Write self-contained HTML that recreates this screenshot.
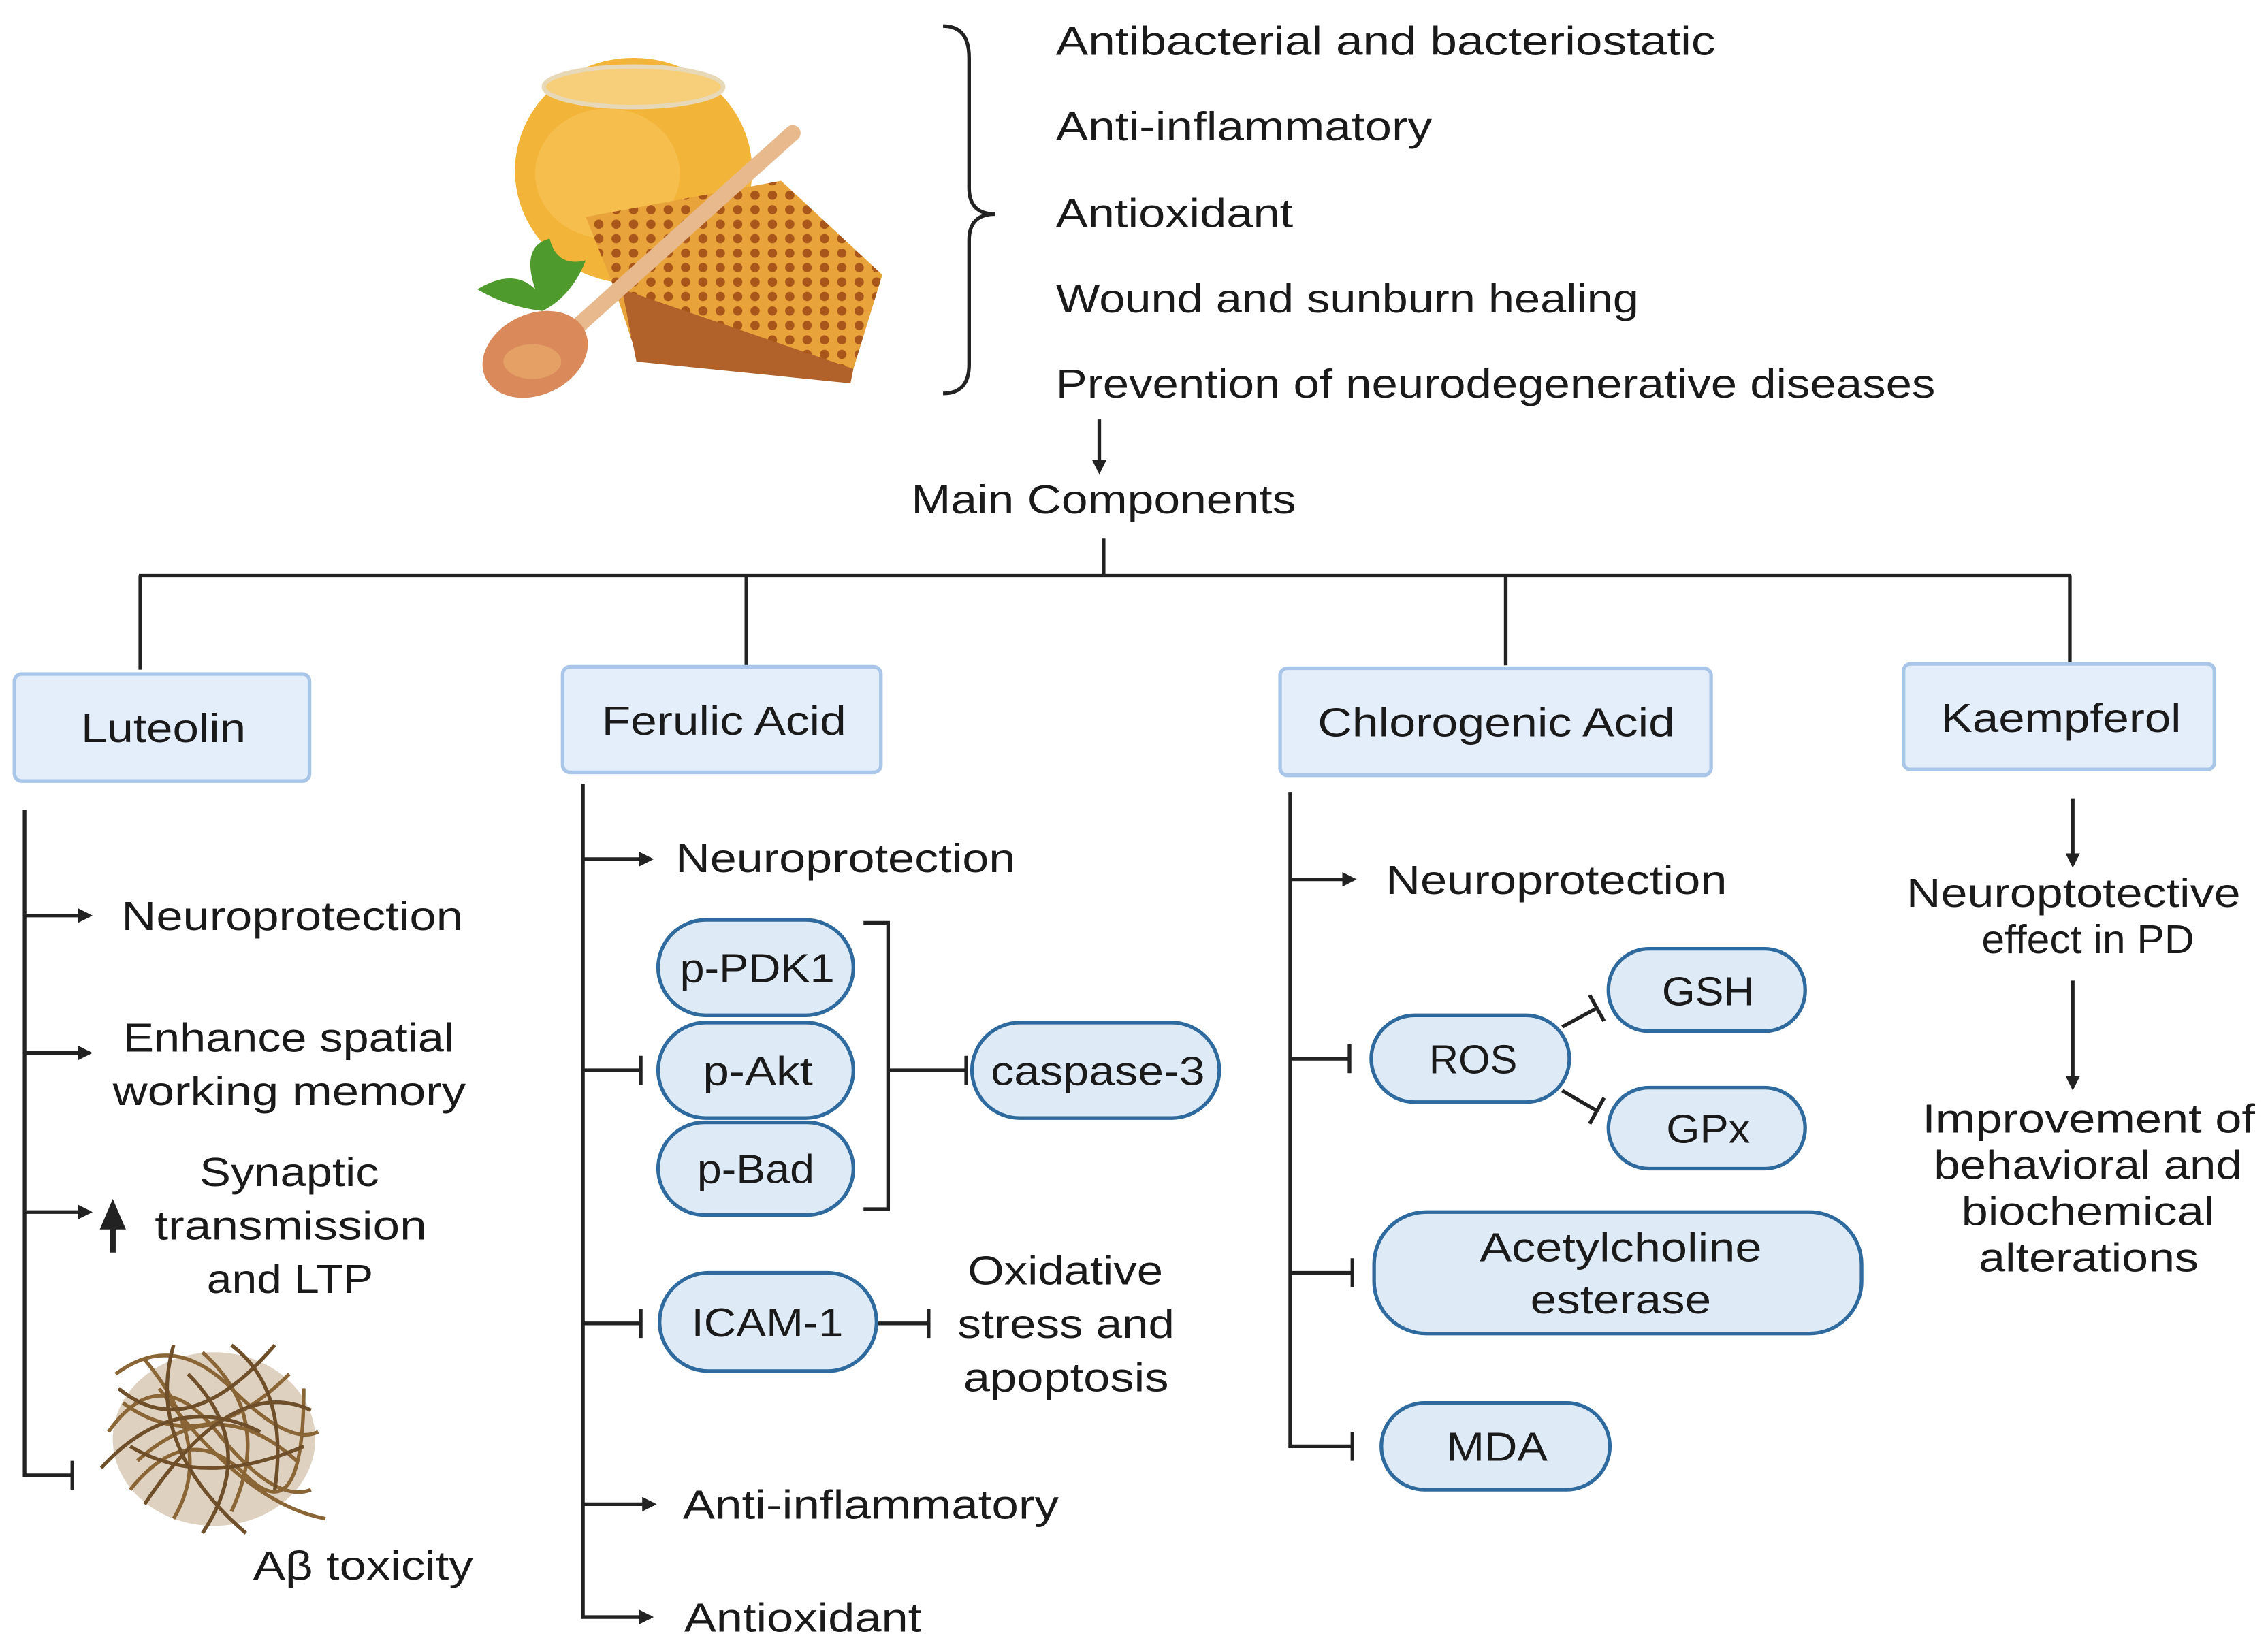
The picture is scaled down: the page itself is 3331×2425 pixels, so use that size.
<!DOCTYPE html>
<html><head><meta charset="utf-8"><style>
html,body{margin:0;padding:0;background:#fff;}
svg{display:block;}
text{font-family:"Liberation Sans",sans-serif;fill:#1a1a1a;}
</style></head><body>
<svg width="3331" height="2425" viewBox="0 0 1568 1141.5" preserveAspectRatio="none" xmlns="http://www.w3.org/2000/svg">
<defs>
<marker id="ar" markerWidth="10" markerHeight="10" refX="8" refY="5" orient="auto" markerUnits="userSpaceOnUse" viewBox="0 0 10 10"><path d="M0,0 L10,5 L0,10 z" fill="#222"/></marker>
<pattern id="hc" width="12" height="10" patternUnits="userSpaceOnUse"><rect width="12" height="10" fill="#e8a33a"/><circle cx="6" cy="5" r="3.2" fill="#a8561a"/></pattern>
</defs>
<rect width="1568" height="1141.5" fill="#fff"/>
<!-- honey image -->
<g>
<ellipse cx="438" cy="118" rx="82" ry="78" fill="#f3b43a"/>
<ellipse cx="438" cy="60" rx="62" ry="14" fill="#f7cf7a" stroke="#e7d8b8" stroke-width="3"/>
<ellipse cx="420" cy="120" rx="50" ry="45" fill="#f8c55a" opacity="0.6"/>
<polygon points="405,150 540,125 610,190 590,255 440,245 425,200" fill="url(#hc)"/>
<polygon points="430,200 590,255 588,265 440,250" fill="#b0622a"/>
<line x1="548" y1="92" x2="400" y2="225" stroke="#e8b98c" stroke-width="11" stroke-linecap="round"/>
<ellipse cx="370" cy="245" rx="38" ry="28" fill="#d9895a" transform="rotate(-25 370 245)"/>
<ellipse cx="368" cy="250" rx="20" ry="12" fill="#e5a066"/>
<path d="M330,200 Q355,185 370,200 Q360,170 380,165 Q385,185 405,180 Q395,205 375,215 Q350,212 330,200z" fill="#4e9a2c"/>
</g>
<!-- brace -->
<path d="M652,18 Q670,18 670,40 L670,130 Q670,148 688,148 Q670,148 670,166 L670,252 Q670,272 652,272" fill="none" stroke="#222" stroke-width="2.5"/>
<g font-size="28" lengthAdjust="spacingAndGlyphs">
<text x="730" y="38" textLength="456" lengthAdjust="spacingAndGlyphs">Antibacterial and bacteriostatic</text>
<text x="730" y="97" textLength="260" lengthAdjust="spacingAndGlyphs">Anti-inflammatory</text>
<text x="730" y="157" textLength="164" lengthAdjust="spacingAndGlyphs">Antioxidant</text>
<text x="730" y="216" textLength="403" lengthAdjust="spacingAndGlyphs">Wound and sunburn healing</text>
<text x="730" y="275" textLength="608" lengthAdjust="spacingAndGlyphs">Prevention of neurodegenerative diseases</text>
<text x="630" y="355" textLength="266" lengthAdjust="spacingAndGlyphs">Main Components</text>
</g>
<g stroke="#222" stroke-width="2.5" fill="none">
<line x1="760" y1="290" x2="760" y2="326" marker-end="url(#ar)"/>
<line x1="763" y1="372" x2="763" y2="398"/>
<line x1="96" y1="398" x2="1432" y2="398"/>
<line x1="97" y1="398" x2="97" y2="463"/>
<line x1="516" y1="398" x2="516" y2="460"/>
<line x1="1041" y1="398" x2="1041" y2="460"/>
<line x1="1431" y1="398" x2="1431" y2="458"/>
</g>
<!-- boxes -->
<g fill="#e3eefa" stroke="#a9c6e8" stroke-width="2.5">
<rect x="10" y="466" width="204" height="74" rx="5"/>
<rect x="389" y="461" width="220" height="73" rx="5"/>
<rect x="885" y="462" width="298" height="74" rx="5"/>
<rect x="1316" y="459" width="215" height="73" rx="5"/>
</g>
<g font-size="28">
<text x="56" y="513" textLength="114" lengthAdjust="spacingAndGlyphs">Luteolin</text>
<text x="416" y="508" textLength="169" lengthAdjust="spacingAndGlyphs">Ferulic Acid</text>
<text x="911" y="509" textLength="247" lengthAdjust="spacingAndGlyphs">Chlorogenic Acid</text>
<text x="1342" y="506" textLength="166" lengthAdjust="spacingAndGlyphs">Kaempferol</text>
</g>
<!-- Luteolin branch -->
<g stroke="#222" stroke-width="2.5" fill="none">
<polyline points="17,560 17,1020 50,1020"/>
<line x1="50" y1="1010" x2="50" y2="1030"/>
<line x1="17" y1="633" x2="62" y2="633" marker-end="url(#ar)"/>
<line x1="17" y1="728" x2="62" y2="728" marker-end="url(#ar)"/>
<line x1="17" y1="838" x2="62" y2="838" marker-end="url(#ar)"/>
</g>
<path d="M78,866 L78,848 L72,848 L78,834 L84,848 L78,848" fill="#222" stroke="#222" stroke-width="4"/>
<ellipse cx="148" cy="995" rx="70" ry="60" fill="#a07a4a" opacity="0.35"/>
<g fill="none" stroke="#8a6535" stroke-width="2.5">
<path d="M80,950 Q120,920 160,960 T220,990 M75,990 Q110,940 150,990 T215,1030 M90,1030 Q130,980 170,1020 T210,960 M100,940 Q150,1000 120,1050 M140,935 Q190,980 160,1045 M85,970 Q140,1010 200,950 M95,1010 Q150,960 205,1010 M110,960 Q170,1040 225,1050"/>
<path d="M82,960 Q130,1000 190,930 M100,1040 Q160,950 215,975 M120,930 Q100,1000 170,1060 M90,1000 Q140,1030 210,1000 M130,950 Q180,1000 140,1060 M70,1015 Q120,960 180,990 M160,930 Q200,960 190,1030" stroke="#6f4e2a"/>
</g>
<g font-size="28">
<text x="84" y="643" textLength="236" lengthAdjust="spacingAndGlyphs">Neuroprotection</text>
<text x="85" y="727" textLength="229" lengthAdjust="spacingAndGlyphs">Enhance spatial</text>
<text x="78" y="764" textLength="244" lengthAdjust="spacingAndGlyphs">working memory</text>
<text x="138" y="820" textLength="124" lengthAdjust="spacingAndGlyphs">Synaptic</text>
<text x="107" y="857" textLength="188" lengthAdjust="spacingAndGlyphs">transmission</text>
<text x="143" y="894" textLength="115" lengthAdjust="spacingAndGlyphs">and LTP</text>
<text x="175" y="1092" textLength="152" lengthAdjust="spacingAndGlyphs">Aβ toxicity</text>
</g>
<!-- Ferulic branch -->
<g stroke="#222" stroke-width="2.5" fill="none">
<polyline points="403,542 403,1118 450,1118" marker-end="url(#ar)"/>
<line x1="403" y1="594" x2="450" y2="594" marker-end="url(#ar)"/>
<line x1="403" y1="740" x2="443" y2="740"/><line x1="443" y1="730" x2="443" y2="750"/>
<polyline points="597,638 614,638 614,836 597,836"/>
<line x1="614" y1="740" x2="668" y2="740"/><line x1="668" y1="730" x2="668" y2="750"/>
<line x1="403" y1="915" x2="443" y2="915"/><line x1="443" y1="905" x2="443" y2="925"/>
<line x1="606" y1="915" x2="642" y2="915"/><line x1="642" y1="905" x2="642" y2="925"/>
<line x1="403" y1="1040" x2="452" y2="1040" marker-end="url(#ar)"/>
</g>
<g fill="#deebf7" stroke="#2e6a9e" stroke-width="2.5">
<rect x="455" y="636" width="135" height="66" rx="33"/>
<rect x="455" y="707" width="135" height="66" rx="33"/>
<rect x="455" y="776" width="135" height="64" rx="32"/>
<rect x="672" y="707" width="171" height="66" rx="33"/>
<rect x="456" y="880" width="150" height="68" rx="34"/>
</g>
<g font-size="28">
<text x="470" y="679" textLength="107" lengthAdjust="spacingAndGlyphs">p-PDK1</text>
<text x="486" y="750" textLength="76" lengthAdjust="spacingAndGlyphs">p-Akt</text>
<text x="482" y="818" textLength="81" lengthAdjust="spacingAndGlyphs">p-Bad</text>
<text x="685" y="750" textLength="148" lengthAdjust="spacingAndGlyphs">caspase-3</text>
<text x="478" y="924" textLength="105" lengthAdjust="spacingAndGlyphs">ICAM-1</text>
<text x="669" y="888" textLength="135" lengthAdjust="spacingAndGlyphs">Oxidative</text>
<text x="662" y="925" textLength="150" lengthAdjust="spacingAndGlyphs">stress and</text>
<text x="666" y="962" textLength="142" lengthAdjust="spacingAndGlyphs">apoptosis</text>
<text x="467" y="603" textLength="235" lengthAdjust="spacingAndGlyphs">Neuroprotection</text>
<text x="472" y="1050" textLength="260" lengthAdjust="spacingAndGlyphs">Anti-inflammatory</text>
<text x="473" y="1128" textLength="164" lengthAdjust="spacingAndGlyphs">Antioxidant</text>
</g>
<!-- Chlorogenic branch -->
<g stroke="#222" stroke-width="2.5" fill="none">
<polyline points="892,548 892,1000 935,1000"/><line x1="935" y1="990" x2="935" y2="1010"/>
<line x1="892" y1="608" x2="936" y2="608" marker-end="url(#ar)"/>
<line x1="892" y1="732" x2="933" y2="732"/><line x1="933" y1="722" x2="933" y2="742"/>
<line x1="892" y1="880" x2="935" y2="880"/><line x1="935" y1="870" x2="935" y2="890"/>
<line x1="1080" y1="710" x2="1104" y2="697"/><line x1="1099" y1="688" x2="1109" y2="706"/>
<line x1="1080" y1="754" x2="1104" y2="768"/><line x1="1099" y1="777" x2="1109" y2="759"/>
</g>
<g fill="#deebf7" stroke="#2e6a9e" stroke-width="2.5">
<rect x="948" y="702" width="137" height="60" rx="30"/>
<rect x="1112" y="656" width="136" height="57" rx="28"/>
<rect x="1112" y="752" width="136" height="56" rx="28"/>
<rect x="950" y="838" width="337" height="84" rx="36"/>
<rect x="955" y="970" width="158" height="60" rx="30"/>
</g>
<g font-size="28">
<text x="988" y="742" textLength="61" lengthAdjust="spacingAndGlyphs">ROS</text>
<text x="1149" y="695" textLength="64" lengthAdjust="spacingAndGlyphs">GSH</text>
<text x="1152" y="790" textLength="58" lengthAdjust="spacingAndGlyphs">GPx</text>
<text x="1023" y="872" textLength="195" lengthAdjust="spacingAndGlyphs">Acetylcholine</text>
<text x="1058" y="908" textLength="125" lengthAdjust="spacingAndGlyphs">esterase</text>
<text x="1000" y="1010" textLength="70" lengthAdjust="spacingAndGlyphs">MDA</text>
<text x="958" y="618" textLength="236" lengthAdjust="spacingAndGlyphs">Neuroprotection</text>
</g>
<!-- Kaempferol -->
<g stroke="#222" stroke-width="2.5" fill="none">
<line x1="1433" y1="552" x2="1433" y2="598" marker-end="url(#ar)"/>
<line x1="1433" y1="678" x2="1433" y2="752" marker-end="url(#ar)"/>
</g>
<g font-size="28">
<text x="1318" y="627" textLength="231" lengthAdjust="spacingAndGlyphs">Neuroptotective</text>
<text x="1370" y="659" textLength="147" lengthAdjust="spacingAndGlyphs">effect in PD</text>
<text x="1329" y="783" textLength="230" lengthAdjust="spacingAndGlyphs">Improvement of</text>
<text x="1337" y="815" textLength="213" lengthAdjust="spacingAndGlyphs">behavioral and</text>
<text x="1356" y="847" textLength="175" lengthAdjust="spacingAndGlyphs">biochemical</text>
<text x="1368" y="879" textLength="152" lengthAdjust="spacingAndGlyphs">alterations</text>
</g>
</svg>
</body></html>
